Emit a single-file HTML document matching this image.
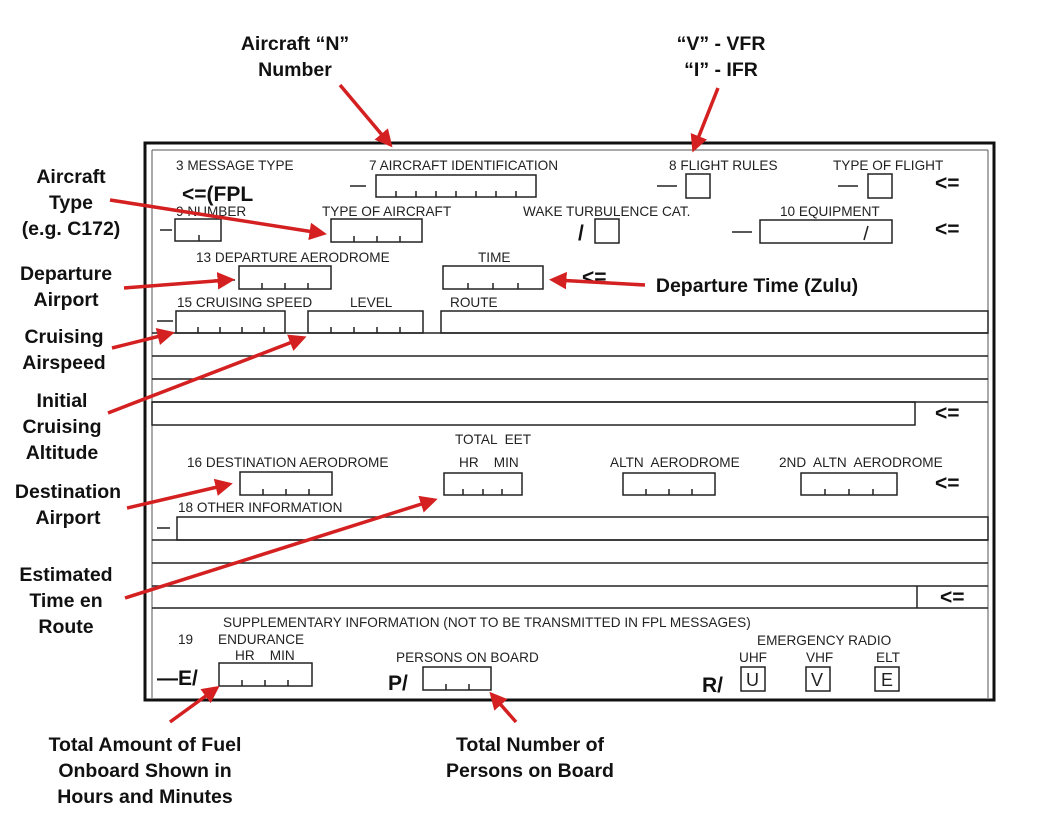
<!DOCTYPE html>
<html><head><meta charset="utf-8"><style>
html,body{margin:0;padding:0;background:#fff}
svg{display:block}
text{font-family:"Liberation Sans",sans-serif;white-space:pre}
.s{font-size:13.6px;fill:#222}
.b{font-size:19.5px;font-weight:bold;fill:#111}
.c{font-size:21px;font-weight:bold;fill:#111}
.r{stroke:#d42020;stroke-width:3.5;fill:none}
</style></head><body>
<svg width="1040" height="840" viewBox="0 0 1040 840" xmlns="http://www.w3.org/2000/svg">
<defs><marker id="ah" markerWidth="5" markerHeight="5" refX="3" refY="2.5" orient="auto" markerUnits="strokeWidth"><path d="M0,0 L5,2.5 L0,5 z" fill="#d42020"/></marker></defs>
<rect x="145" y="143" width="849" height="557" fill="none" stroke="#111" stroke-width="3"/>
<line x1="152" y1="150" x2="988" y2="150" stroke="#555" stroke-width="1"/>
<line x1="152" y1="150" x2="152" y2="698" stroke="#555" stroke-width="1"/>
<line x1="988" y1="150" x2="988" y2="698" stroke="#555" stroke-width="1"/>
<g class="s">
<text x="176" y="170">3 MESSAGE TYPE</text>
<text x="369" y="170">7 AIRCRAFT IDENTIFICATION</text>
<text x="669" y="170">8 FLIGHT RULES</text>
<text x="833" y="170">TYPE OF FLIGHT</text>
<text x="176" y="216">9 NUMBER</text>
<text x="322" y="216">TYPE OF AIRCRAFT</text>
<text x="523" y="216">WAKE TURBULENCE CAT.</text>
<text x="780" y="216">10 EQUIPMENT</text>
<text x="196" y="262">13 DEPARTURE AERODROME</text>
<text x="478" y="262">TIME</text>
<text x="177" y="307">15 CRUISING SPEED</text>
<text x="350" y="307">LEVEL</text>
<text x="450" y="307">ROUTE</text>
<text x="455" y="444">TOTAL  EET</text>
<text x="187" y="467">16 DESTINATION AERODROME</text>
<text x="459" y="467">HR    MIN</text>
<text x="610" y="467">ALTN  AERODROME</text>
<text x="779" y="467">2ND  ALTN  AERODROME</text>
<text x="178" y="512">18 OTHER INFORMATION</text>
<text x="223" y="627">SUPPLEMENTARY INFORMATION (NOT TO BE TRANSMITTED IN FPL MESSAGES)</text>
<text x="178" y="644">19</text>
<text x="218" y="644">ENDURANCE</text>
<text x="235" y="660">HR    MIN</text>
<text x="396" y="662">PERSONS ON BOARD</text>
<text x="757" y="645">EMERGENCY RADIO</text>
<text x="739" y="662">UHF</text>
<text x="806" y="662">VHF</text>
<text x="876" y="662">ELT</text>
</g>
<g class="c">
<text x="182" y="201">&lt;=(FPL</text>
<text x="935" y="190">&lt;=</text>
<text x="935" y="236">&lt;=</text>
<text x="582" y="284">&lt;=</text>
<text x="935" y="420">&lt;=</text>
<text x="935" y="490">&lt;=</text>
<text x="940" y="604">&lt;=</text>
<text x="157" y="685">—E/</text>
<text x="388" y="690">P/</text>
<text x="702" y="692">R/</text>
<text x="578" y="240">/</text>
</g>
<g stroke="#222" stroke-width="1.5" fill="none">
<path d="M350 186H366 M657 186H677 M838 186H858 M160 230H172 M732 232H752 M214 280H235 M157 321H173 M157 528H170"/>
<rect x="376" y="175" width="160" height="22"/>
<path d="M396 197v-6M416 197v-6M436 197v-6M456 197v-6M476 197v-6M496 197v-6M516 197v-6"/>
<rect x="686" y="174" width="24" height="24"/>
<rect x="868" y="174" width="24" height="24"/>
<rect x="175" y="219" width="46" height="22"/><path d="M199 241v-6"/>
<rect x="331" y="219" width="91" height="23"/><path d="M354 242v-6M377 242v-6M400 242v-6"/>
<rect x="595" y="219" width="24" height="24"/>
<rect x="760" y="220" width="132" height="23"/><path d="M868 226l-4 14"/>
<rect x="239" y="266" width="92" height="23"/><path d="M262 289v-6M285 289v-6M308 289v-6"/>
<rect x="443" y="266" width="100" height="23"/><path d="M468 289v-6M493 289v-6M518 289v-6"/>
<rect x="176" y="311" width="109" height="22"/><path d="M198 333v-6M220 333v-6M242 333v-6M264 333v-6"/>
<rect x="308" y="311" width="115" height="22"/><path d="M331 333v-6M354 333v-6M377 333v-6M400 333v-6"/>
<rect x="441" y="311" width="547" height="22"/>
<path d="M152 333H988M152 356H988M152 379H988M152 402H988"/>
<rect x="152" y="402" width="763" height="23"/>
<rect x="240" y="472" width="92" height="23"/><path d="M263 495v-6M286 495v-6M309 495v-6"/>
<rect x="444" y="473" width="78" height="22"/><path d="M463 495v-6M483 495v-6M502 495v-6"/>
<rect x="623" y="473" width="92" height="22"/><path d="M646 495v-6M669 495v-6M692 495v-6"/>
<rect x="801" y="473" width="96" height="22"/><path d="M825 495v-6M849 495v-6M873 495v-6"/>
<rect x="177" y="517" width="811" height="23"/>
<path d="M152 540H988M152 563H988M152 586H988M152 608H988M917 586V608"/>
<rect x="219" y="663" width="93" height="23"/><path d="M242 686v-6M265 686v-6M288 686v-6"/>
<rect x="423" y="667" width="68" height="23"/><path d="M446 690v-6M469 690v-6"/>
<rect x="741" y="667" width="24" height="24"/>
<rect x="806" y="667" width="24" height="24"/>
<rect x="875" y="667" width="24" height="24"/>
</g>
<g style="font-size:18px;fill:#222">
<text x="746" y="686">U</text><text x="811" y="686">V</text><text x="881" y="686">E</text>
</g>
<g class="b" text-anchor="middle">
<text x="295" y="50">Aircraft “N”</text><text x="295" y="76">Number</text>
<text x="721" y="50">“V” - VFR</text><text x="721" y="76">“I” - IFR</text>
<text x="71" y="183">Aircraft</text><text x="71" y="209">Type</text><text x="71" y="235">(e.g. C172)</text>
<text x="66" y="280">Departure</text><text x="66" y="306">Airport</text>
<text x="64" y="343">Cruising</text><text x="64" y="369">Airspeed</text>
<text x="62" y="407">Initial</text><text x="62" y="433">Cruising</text><text x="62" y="459">Altitude</text>
<text x="68" y="498">Destination</text><text x="68" y="524">Airport</text>
<text x="66" y="581">Estimated</text><text x="66" y="607">Time en</text><text x="66" y="633">Route</text>
<text x="145" y="751">Total Amount of Fuel</text><text x="145" y="777">Onboard Shown in</text><text x="145" y="803">Hours and Minutes</text>
<text x="530" y="751">Total Number of</text><text x="530" y="777">Persons on Board</text>
<text x="757" y="292">Departure Time (Zulu)</text>
</g>
<g class="r" marker-end="url(#ah)">
<path d="M340 85L388 142"/>
<path d="M718 88L695 146"/>
<path d="M110 200L320 233"/>
<path d="M124 288L228 280"/>
<path d="M112 348L168 334"/>
<path d="M108 413L300 339"/>
<path d="M127 508L226 485"/>
<path d="M125 598L431 501"/>
<path d="M645 285L556 280"/>
<path d="M170 722L214 690"/>
<path d="M516 722L494 697"/>
</g>
</svg>
</body></html>
